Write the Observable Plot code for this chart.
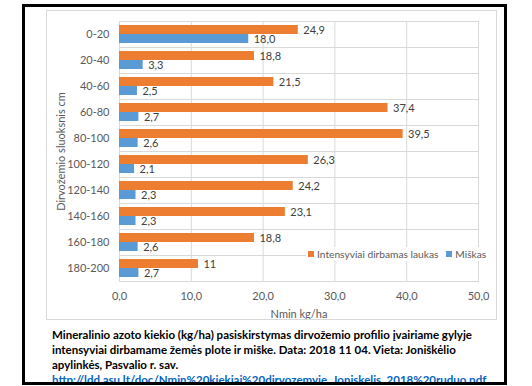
<!DOCTYPE html>
<html><head><meta charset="utf-8">
<script src="https://cdn.jsdelivr.net/npm/d3@7"></script>
<script src="https://cdn.jsdelivr.net/npm/@observablehq/plot@0.6"></script>
<style>
body{margin:0;background:#fff;width:532px;height:386px;overflow:hidden;position:relative;font-family:Lato,sans-serif}
#frame{position:absolute;left:22px;top:4px;width:485px;height:381px;border:3px solid #000;box-sizing:border-box;overflow:hidden;background:#fff}
#chartbox{position:absolute;left:21px;top:3px;width:451px;height:310px;border:1px solid #d9d9d9;box-sizing:border-box}
#chart{position:absolute;left:0;top:0}
#legend{position:absolute;left:281px;top:240px;font-size:10.2px;color:#595959;line-height:14px;white-space:nowrap;background:#fff;padding:0 2px}
#legend span.sw{display:inline-block;width:6px;height:6px;margin-right:3px;vertical-align:1px}
#caption{position:absolute;left:27px;top:320px;width:470px;font-size:11.5px;font-weight:700;color:#000;line-height:15px;white-space:nowrap}
#caption a{color:#0563C1;text-decoration:underline}
</style></head>
<body>
<div id="frame">
  <div id="chartbox"><div id="chart"></div></div>
  <div id="legend"></div>
  <div id="caption"></div>
</div>
<script>
const depths = ["0-20","20-40","40-60","60-80","80-100","100-120","120-140","140-160","160-180","180-200"];
const field = [24.9,18.8,21.5,37.4,39.5,26.3,24.2,23.1,18.8,11];
const fieldLabels = ["24,9","18,8","21,5","37,4","39,5","26,3","24,2","23,1","18,8","11"];
const forest = [18.0,3.3,2.5,2.7,2.6,2.1,2.3,2.3,2.6,2.7];
const forestLabels = ["18,0","3,3","2,5","2,7","2,6","2,1","2,3","2,3","2,6","2,7"];
const series = ["Intensyviai dirbamas laukas","Miškas"];
const colors = ["#ED7D31","#5B9BD5"];
const xTicks = [0,10,20,30,40,50];
const xTickLabels = ["0,0","10,0","20,0","30,0","40,0","50,0"];
const yLabel = "Dirvožemio sluoksnis cm";
const xLabel = "Nmin kg/ha";
const captionLines = [
  "Mineralinio azoto kiekio (kg/ha) pasiskirstymas dirvožemio profilio įvairiame gylyje",
  "intensyviai dirbamame žemės plote ir miške.  Data: 2018 11 04. Vieta: Joniškėlio",
  "apylinkės, Pasvalio r. sav."
];
const linkText = "http://ldd.asu.lt/doc/Nmin%20kiekiai%20dirvozemyje_Joniskelis_2018%20ruduo.pdf";

const data = depths.flatMap((d, i) => [
  {depth: d, series: series[0], value: field[i], label: fieldLabels[i]},
  {depth: d, series: series[1], value: forest[i], label: forestLabels[i]}
]);

const chart = Plot.plot({
  width: 449, height: 308,
  marginLeft: 72, marginRight: 18, marginTop: 6, marginBottom: 35,
  style: {fontFamily: "Lato, sans-serif", fontSize: "11px", color: "#595959", background: "transparent"},
  x: {domain: [0, 50]},
  y: {domain: series, axis: null, paddingInner: 0, paddingOuter: 0.38},
  fy: {domain: depths, padding: 0, axis: null},
  color: {domain: series, range: colors},
  marks: [
    Plot.frame({stroke: "#d9d9d9", strokeOpacity: 1}),
    Plot.gridX(xTicks, {stroke: "#d9d9d9", strokeOpacity: 1}),
    Plot.barX(data, {fy: "depth", y: "series", x: "value", fill: "series"}),
    Plot.text(data, {fy: "depth", y: "series", x: "value", text: "label", textAnchor: "start", dx: 5, fill: "#404040", fontSize: 11}),
    Plot.axisX(xTicks, {tickSize: 0, tickPadding: 11, tickFormat: d => xTickLabels[xTicks.indexOf(d)], label: xLabel, labelAnchor: "center", labelOffset: 36, labelArrow: "none", fill: "#595959"}),
    Plot.axisFy({anchor: "left", tickSize: 0, tickPadding: 10, label: yLabel, labelAnchor: "center", labelOffset: 62, labelArrow: "none", fill: "#595959"})
  ]
});
document.getElementById("chart").appendChild(chart);

document.getElementById("legend").innerHTML = series.map((s, i) =>
  `<span class="sw" style="background:${colors[i]}"></span>${s}`).join('<span style="display:inline-block;width:8px"></span>');

const cap = document.getElementById("caption");
cap.innerHTML = captionLines.map(l => `<div>${l}</div>`).join("") + `<div><a href="#">${linkText}</a></div>`;
</script>
</body></html>
